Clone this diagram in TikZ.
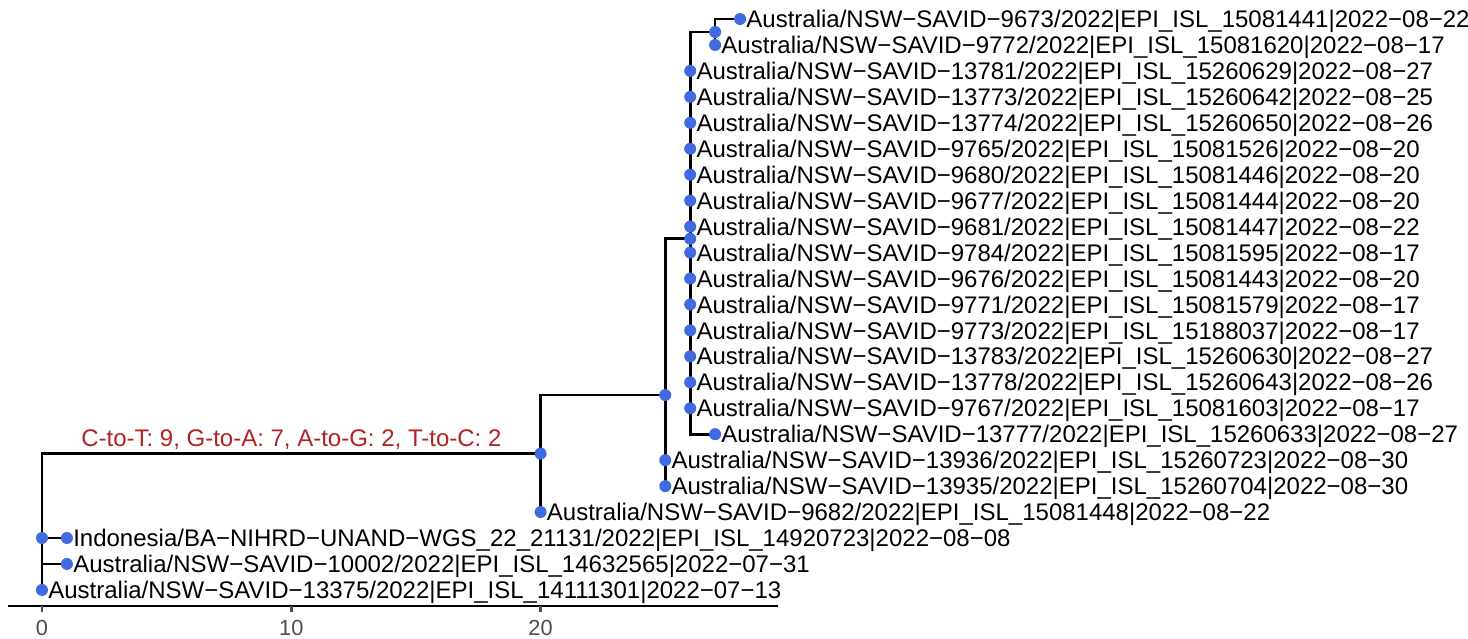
\documentclass[tikz,border=0pt]{standalone}
\usepackage{fontspec}
\setmainfont{Liberation Sans}
\definecolor{tipblue}{HTML}{4169E1}
\definecolor{mutred}{HTML}{B22222}
\definecolor{axisgray}{HTML}{4D4D4D}
\begin{document}
\begin{tikzpicture}[x=12.465pt, y=-12.975pt, line width=1.35pt,
  tip dot/.style={circle,fill=tipblue,minimum size=6pt,inner sep=0pt},
  tip label/.style={anchor=base west,inner sep=0pt,xshift=2.5pt,yshift=-4.3pt,font=\fontsize{12}{14}\selectfont},
  tick label/.style={anchor=base,inner sep=0pt,text=axisgray,font=\fontsize{10.9}{13}\selectfont},
  mut label/.style={anchor=base,inner sep=0pt,text=mutred,font=\fontsize{12}{14}\selectfont}]
\useasboundingbox (-1.685,0.268) rectangle (57.2,24.89);
\coordinate (root) at (0,21);
\coordinate (n20) at (20,17.745);
\coordinate (n25) at (25,15.49);
\coordinate (n26) at (26,9.47);
\coordinate (n27) at (27,1.5);
\coordinate (t9673) at (28,1);
\coordinate (t9772) at (27,2);
\coordinate (t13781) at (26,3);
\coordinate (t13773) at (26,4);
\coordinate (t13774) at (26,5);
\coordinate (t9765) at (26,6);
\coordinate (t9680) at (26,7);
\coordinate (t9677) at (26,8);
\coordinate (t9681) at (26,9);
\coordinate (t9784) at (26,10);
\coordinate (t9676) at (26,11);
\coordinate (t9771) at (26,12);
\coordinate (t9773) at (26,13);
\coordinate (t13783) at (26,14);
\coordinate (t13778) at (26,15);
\coordinate (t9767) at (26,16);
\coordinate (t13777) at (27,17);
\coordinate (t13936) at (25,18);
\coordinate (t13935) at (25,19);
\coordinate (t9682) at (20,20);
\coordinate (tindo) at (1,21);
\coordinate (t10002) at (1,22);
\coordinate (t13375) at (0,23);
\coordinate (axl) at (-1.364,23.62);
\coordinate (axr) at (29.52,23.62);
\draw (root) |- (n20);
\draw (root) |- (tindo);
\draw (root) |- (t10002);
\draw (root) |- (t13375);
\draw (n20) |- (n25);
\draw (n20) |- (t9682);
\draw (n25) |- (n26);
\draw (n25) |- (t13936);
\draw (n25) |- (t13935);
\draw (n26) |- (n27);
\draw (n26) |- (t13777);
\draw (n26) -- (t13781);
\draw (n26) -- (t9767);
\draw (n27) |- (t9673);
\draw (n27) |- (t9772);
\node [tip dot] (droot) at (root) {};
\node [tip dot] (d20) at (n20) {};
\node [tip dot] (d25) at (n25) {};
\node [tip dot] (d26) at (n26) {};
\node [tip dot] (d27) at (n27) {};
\node [tip dot] (d9673) at (t9673) {};
\node [tip dot] (d9772) at (t9772) {};
\node [tip dot] (d13781) at (t13781) {};
\node [tip dot] (d13773) at (t13773) {};
\node [tip dot] (d13774) at (t13774) {};
\node [tip dot] (d9765) at (t9765) {};
\node [tip dot] (d9680) at (t9680) {};
\node [tip dot] (d9677) at (t9677) {};
\node [tip dot] (d9681) at (t9681) {};
\node [tip dot] (d9784) at (t9784) {};
\node [tip dot] (d9676) at (t9676) {};
\node [tip dot] (d9771) at (t9771) {};
\node [tip dot] (d9773) at (t9773) {};
\node [tip dot] (d13783) at (t13783) {};
\node [tip dot] (d13778) at (t13778) {};
\node [tip dot] (d9767) at (t9767) {};
\node [tip dot] (d13777) at (t13777) {};
\node [tip dot] (d13936) at (t13936) {};
\node [tip dot] (d13935) at (t13935) {};
\node [tip dot] (d9682) at (t9682) {};
\node [tip dot] (dindo) at (tindo) {};
\node [tip dot] (d10002) at (t10002) {};
\node [tip dot] (d13375) at (t13375) {};
\node [tip label] (l9673) at (t9673) {Australia/NSW−SAVID−9673/2022|EPI\_ISL\_15081441|2022−08−22};
\node [tip label] (l9772) at (t9772) {Australia/NSW−SAVID−9772/2022|EPI\_ISL\_15081620|2022−08−17};
\node [tip label] (l13781) at (t13781) {Australia/NSW−SAVID−13781/2022|EPI\_ISL\_15260629|2022−08−27};
\node [tip label] (l13773) at (t13773) {Australia/NSW−SAVID−13773/2022|EPI\_ISL\_15260642|2022−08−25};
\node [tip label] (l13774) at (t13774) {Australia/NSW−SAVID−13774/2022|EPI\_ISL\_15260650|2022−08−26};
\node [tip label] (l9765) at (t9765) {Australia/NSW−SAVID−9765/2022|EPI\_ISL\_15081526|2022−08−20};
\node [tip label] (l9680) at (t9680) {Australia/NSW−SAVID−9680/2022|EPI\_ISL\_15081446|2022−08−20};
\node [tip label] (l9677) at (t9677) {Australia/NSW−SAVID−9677/2022|EPI\_ISL\_15081444|2022−08−20};
\node [tip label] (l9681) at (t9681) {Australia/NSW−SAVID−9681/2022|EPI\_ISL\_15081447|2022−08−22};
\node [tip label] (l9784) at (t9784) {Australia/NSW−SAVID−9784/2022|EPI\_ISL\_15081595|2022−08−17};
\node [tip label] (l9676) at (t9676) {Australia/NSW−SAVID−9676/2022|EPI\_ISL\_15081443|2022−08−20};
\node [tip label] (l9771) at (t9771) {Australia/NSW−SAVID−9771/2022|EPI\_ISL\_15081579|2022−08−17};
\node [tip label] (l9773) at (t9773) {Australia/NSW−SAVID−9773/2022|EPI\_ISL\_15188037|2022−08−17};
\node [tip label] (l13783) at (t13783) {Australia/NSW−SAVID−13783/2022|EPI\_ISL\_15260630|2022−08−27};
\node [tip label] (l13778) at (t13778) {Australia/NSW−SAVID−13778/2022|EPI\_ISL\_15260643|2022−08−26};
\node [tip label] (l9767) at (t9767) {Australia/NSW−SAVID−9767/2022|EPI\_ISL\_15081603|2022−08−17};
\node [tip label] (l13777) at (t13777) {Australia/NSW−SAVID−13777/2022|EPI\_ISL\_15260633|2022−08−27};
\node [tip label] (l13936) at (t13936) {Australia/NSW−SAVID−13936/2022|EPI\_ISL\_15260723|2022−08−30};
\node [tip label] (l13935) at (t13935) {Australia/NSW−SAVID−13935/2022|EPI\_ISL\_15260704|2022−08−30};
\node [tip label] (l9682) at (t9682) {Australia/NSW−SAVID−9682/2022|EPI\_ISL\_15081448|2022−08−22};
\node [tip label] (lindo) at (tindo) {Indonesia/BA−NIHRD−UNAND−WGS\_22\_21131/2022|EPI\_ISL\_14920723|2022−08−08};
\node [tip label] (l10002) at (t10002) {Australia/NSW−SAVID−10002/2022|EPI\_ISL\_14632565|2022−07−31};
\node [tip label] (l13375) at (t13375) {Australia/NSW−SAVID−13375/2022|EPI\_ISL\_14111301|2022−07−13};
\node [mut label] (mut) at (10,17.48) {C-to-T: 9, G-to-A: 7, A-to-G: 2, T-to-C: 2};
\draw [line width=1.45pt] (axl) -- (axr);
\draw [axisgray] (0,23.62) -- (0,23.87);
\draw [axisgray] (10,23.62) -- (10,23.87);
\draw [axisgray] (20,23.62) -- (20,23.87);
\node [tick label] (k0) at (0,24.74) {0};
\node [tick label] (k10) at (10,24.74) {10};
\node [tick label] (k20) at (20,24.74) {20};
\end{tikzpicture}
\end{document}
